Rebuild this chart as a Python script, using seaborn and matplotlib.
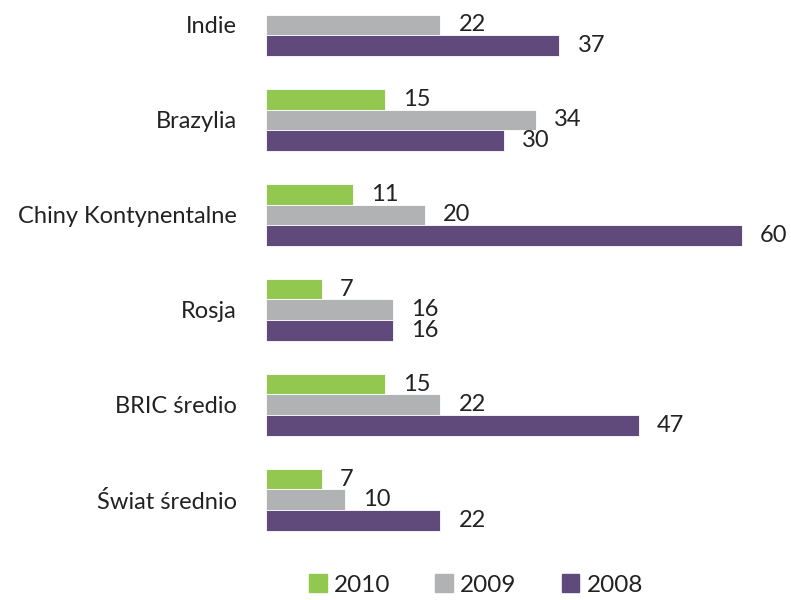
import pandas as pd
import matplotlib.pyplot as plt
import matplotlib.transforms as mtransforms
import seaborn as sns
import numpy as np

categories = ['Indie', 'Brazylia', 'Chiny Kontynentalne', 'Rosja', 'BRIC średio', 'Świat średnio']
years = ['2010', '2009', '2008']
v2010 = [np.nan, 15, 11, 7, 15, 7]
v2009 = [22, 34, 20, 16, 22, 10]
v2008 = [37, 30, 60, 16, 47, 22]

colors = {'2010': '#92c850', '2009': '#b1b2b4', '2008': '#604a7b'}

df = pd.DataFrame({
    'Kraj': categories * 3,
    'Rok': ['2010'] * 6 + ['2009'] * 6 + ['2008'] * 6,
    'Wartosc': v2010 + v2009 + v2008,
})

sns.set_style('white')
plt.rcParams['font.family'] = ['Lato', 'DejaVu Sans']

fig = plt.figure(figsize=(7.91, 6.0), dpi=100)
ax = fig.add_axes([266 / 791, 45 / 600, 525 / 791, 555 / 600])

sns.barplot(data=df, y='Kraj', x='Wartosc', hue='Rok', hue_order=years,
            order=categories, orient='h', palette=colors, saturation=1,
            width=0.66, edgecolor='white', linewidth=0.6, ax=ax, legend=False)

# value labels, nudged a touch below bar centre like the original
shift = mtransforms.ScaledTranslation(0, -2 / 100, fig.dpi_scale_trans)
for cont in ax.containers:
    labs = ax.bar_label(cont, fmt='{:.0f}', padding=13, fontsize=17, color='#222222')
    for t in labs:
        t.set_transform(t.get_transform() + shift)

ax.set_xlim(0, 66.2)
ax.set_ylim(5.58, -0.263)
ax.set_xlabel('')
ax.set_ylabel('')
ax.set_xticks([])
ax.tick_params(axis='y', length=0, pad=21, labelsize=17, labelcolor='#222222')
sns.despine(ax=ax, left=True, bottom=True)

handles = [plt.Rectangle((0, 0), 1, 1, color=colors[y]) for y in years]
fig.legend(handles, years, loc='center', bbox_to_anchor=(476 / 791, 15 / 600),
           ncol=3, frameon=False, fontsize=17.5, handlelength=0.72, handleheight=0.72,
           handletextpad=0.3, columnspacing=1.85, labelcolor='#222222')

fig.savefig('out.png', dpi=100)
